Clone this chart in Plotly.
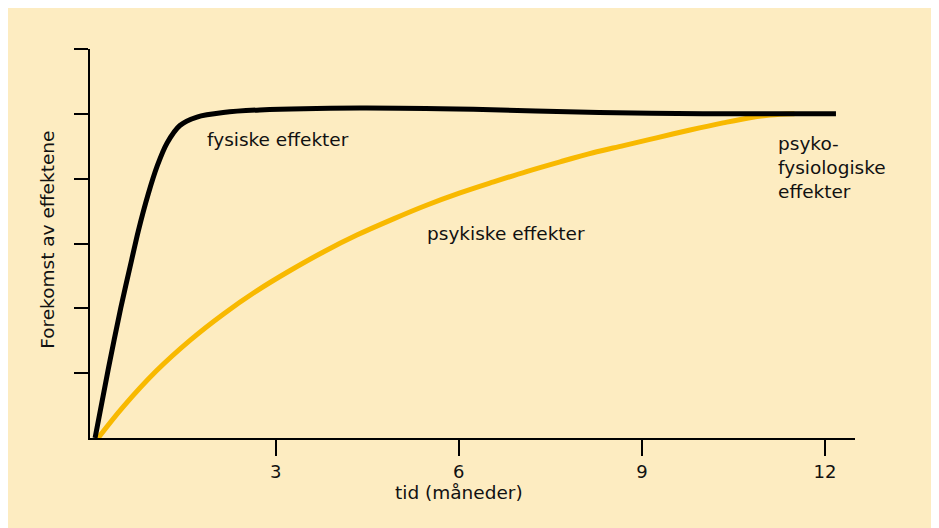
import plotly.graph_objects as go

# values (months, relative prevalence)
fys_months = [0.04, 0.26, 0.46, 0.64, 0.75, 0.91, 1.06, 1.22, 1.43, 1.71, 2.14, 2.74, 4.38, 6.24, 8.30, 10.0, 12.18]
fys_values = [0.0, 1.08, 2.00, 2.75, 3.20, 3.76, 4.20, 4.55, 4.82, 4.95, 5.02, 5.06, 5.09, 5.07, 5.02, 5.0, 5.0]

psy_months = [0.09, 0.50, 1.05, 1.60, 2.14, 2.69, 3.23, 3.78, 4.33, 4.93, 5.47, 6.02,
              6.57, 7.11, 7.66, 8.20, 8.70, 9.24, 9.79, 10.33, 10.77, 11.10, 11.50]
psy_values = [0.0, 0.48, 1.04, 1.51, 1.91, 2.27, 2.58, 2.87, 3.13, 3.38, 3.59, 3.78,
              3.95, 4.11, 4.26, 4.40, 4.51, 4.63, 4.75, 4.86, 4.94, 4.98, 5.0]

x_ticks = [3, 6, 9, 12]
y_ticks = [1, 2, 3, 4, 5, 6]

BG = "#fdecc1"
GOLD = "#f8b900"
FONT = "DejaVu Sans, Verdana, sans-serif"

fig = go.Figure()
fig.add_trace(go.Scatter(x=psy_months, y=psy_values, mode="lines",
                         line=dict(color=GOLD, width=5, shape="spline", smoothing=1),
                         hoverinfo="skip"))
fig.add_trace(go.Scatter(x=fys_months, y=fys_values, mode="lines",
                         line=dict(color="black", width=5, shape="spline", smoothing=0.8),
                         hoverinfo="skip"))

txt = dict(family=FONT, size=18.5, color="#111111")
fig.add_annotation(x=1.84, y=4.60, xref="x", yref="y", text="fysiske effekter",
                   showarrow=False, xanchor="left", yanchor="middle", font=txt)
fig.add_annotation(x=5.45, y=3.15, xref="x", yref="y", text="psykiske effekter",
                   showarrow=False, xanchor="left", yanchor="middle", font=txt)
fig.add_annotation(x=11.2, y=4.18, xref="x", yref="y",
                   text="psyko-<br>fysiologiske<br>effekter", align="left",
                   showarrow=False, xanchor="left", yanchor="middle", font=txt)
fig.add_annotation(x=6, y=-0.139, xref="x", yref="paper", text="tid (måneder)",
                   showarrow=False, xanchor="center", yanchor="middle", font=txt)
fig.add_annotation(x=-0.056, y=0.51, xref="paper", yref="paper",
                   text="Forekomst av effektene", textangle=-90,
                   showarrow=False, xanchor="center", yanchor="middle", font=txt)

# page body adds an 8px offset, so the figure is 8px smaller than the window
fig.update_layout(
    width=931, height=520,
    margin=dict(l=82, r=84, t=41, b=90),
    paper_bgcolor=BG,
    plot_bgcolor=BG,
    showlegend=False,
    font=txt,
    xaxis=dict(range=[-0.043, 12.492], tickvals=x_ticks, ticktext=[str(v) for v in x_ticks],
               showline=True, linecolor="black", linewidth=2,
               ticks="outside", ticklen=16, tickwidth=2, tickcolor="black",
               showgrid=False, zeroline=False,
               tickfont=dict(family=FONT, size=18, color="#111111")),
    yaxis=dict(range=[0, 6], tickvals=y_ticks, showticklabels=False,
               showline=True, linecolor="black", linewidth=2,
               ticks="outside", ticklen=14, tickwidth=2, tickcolor="black",
               showgrid=False, zeroline=False),
)

fig.write_html("out.html")
